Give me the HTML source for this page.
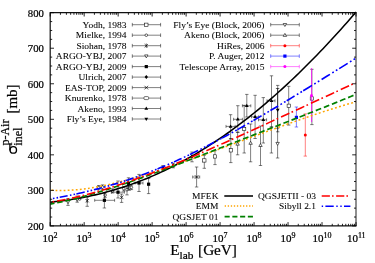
<!DOCTYPE html>
<html><head><meta charset="utf-8"><title>chart</title>
<style>
html,body{margin:0;padding:0;background:#fff;}
body{width:375px;height:263px;overflow:hidden;position:relative;font-family:"Liberation Serif",serif;}
svg{position:absolute;left:0;top:0;will-change:transform;}
text{font-family:"Liberation Serif",serif;stroke:#000;stroke-width:0.22px;}
</style></head><body>
<svg width="375" height="263" viewBox="0 0 375 263">
<rect x="0" y="0" width="375" height="263" fill="#fff"/>

<path d="M68.0,198.5V205.4 M66.3,198.5h3.4 M66.3,205.4h3.4" stroke="#000" stroke-width="0.5" fill="none"/><path d="M66.3,200.7h3.4l-1.7,3z" fill="#fff" stroke="#000" stroke-width="0.6"/>
<path d="M77.2,196.0V202.2 M75.5,196.0h3.4 M75.5,202.2h3.4" stroke="#000" stroke-width="0.5" fill="none"/><path d="M75.5,198.4h3.4l-1.7,3z" fill="#fff" stroke="#000" stroke-width="0.6"/>
<circle cx="79.7" cy="199.0" r="1.3" fill="#fff" stroke="#000" stroke-width="0.6"/>
<path d="M87.2,197.0V206.3 M85.5,197.0h3.4 M85.5,206.3h3.4" stroke="#000" stroke-width="0.5" fill="none"/><path d="M85.5,199.0l3.4,3.4m0,-3.4l-3.4,3.4m1.7,-3.9v4.4" stroke="#000" stroke-width="0.6" fill="none"/>
<path d="M98.7,185.5V189.8 M97.0,185.5h3.4 M97.0,189.8h3.4" stroke="#000" stroke-width="0.5" fill="none"/><circle cx="98.7" cy="187.6" r="1.3" fill="#fff" stroke="#000" stroke-width="0.6"/>
<path d="M102.5,184.9V189.7 M100.8,184.9h3.4 M100.8,189.7h3.4" stroke="#000" stroke-width="0.5" fill="none"/><circle cx="102.5" cy="187.2" r="1.3" fill="#fff" stroke="#000" stroke-width="0.6"/>
<path d="M105.1,192.9V197.3 M103.4,192.9h3.4 M103.4,197.3h3.4" stroke="#000" stroke-width="0.5" fill="none"/><circle cx="105.1" cy="195.1" r="1.3" fill="#fff" stroke="#000" stroke-width="0.6"/>
<path d="M112.6,188.8V193.0 M110.9,188.8h3.4 M110.9,193.0h3.4" stroke="#000" stroke-width="0.5" fill="none"/><circle cx="112.6" cy="190.9" r="1.3" fill="#fff" stroke="#000" stroke-width="0.6"/>
<path d="M121.6,194.0V202.4 M119.9,194.0h3.4 M119.9,202.4h3.4" stroke="#000" stroke-width="0.5" fill="none"/><path d="M119.8,195.5l3.6,3.6m0,-3.6l-3.6,3.6" stroke="#000" stroke-width="0.7" fill="none"/>
<path d="M123.8,186.5V191.0 M122.1,186.5h3.4 M122.1,191.0h3.4" stroke="#000" stroke-width="0.5" fill="none"/><circle cx="123.8" cy="188.7" r="1.3" fill="#fff" stroke="#000" stroke-width="0.6"/>
<path d="M127.0,187.0V194.9 M125.3,187.0h3.4 M125.3,194.9h3.4" stroke="#000" stroke-width="0.5" fill="none"/><circle cx="127.0" cy="189.7" r="1.3" fill="#fff" stroke="#000" stroke-width="0.6"/>
<path d="M129.2,186.0V190.3 M127.5,186.0h3.4 M127.5,190.3h3.4" stroke="#000" stroke-width="0.5" fill="none"/><circle cx="129.2" cy="188.1" r="1.3" fill="#fff" stroke="#000" stroke-width="0.6"/>
<path d="M131.4,185.2V189.6 M129.7,185.2h3.4 M129.7,189.6h3.4" stroke="#000" stroke-width="0.5" fill="none"/><circle cx="131.4" cy="187.4" r="1.3" fill="#fff" stroke="#000" stroke-width="0.6"/>
<path d="M104.4,192.8V208.0 M102.7,192.8h3.4 M102.7,208.0h3.4" stroke="#000" stroke-width="0.5" fill="none"/><path d="M94.7,200.3H114.6 M94.7,198.8v3.0 M114.6,198.8v3.0" stroke="#000" stroke-width="0.5" fill="none"/><rect x="102.8" y="198.7" width="3.2" height="3.2" fill="#000"/>
<path d="M118.0,181.0V198.0 M116.3,181.0h3.4 M116.3,198.0h3.4" stroke="#000" stroke-width="0.5" fill="none"/><path d="M111.4,192.2H124.4 M111.4,190.7v3.0 M124.4,190.7v3.0" stroke="#000" stroke-width="0.5" fill="none"/><rect x="116.4" y="190.6" width="3.2" height="3.2" fill="#000"/>
<path d="M128.5,177.8V189.0 M126.8,177.8h3.4 M126.8,189.0h3.4" stroke="#000" stroke-width="0.5" fill="none"/><rect x="126.9" y="181.7" width="3.2" height="3.2" fill="#000"/>
<path d="M139.0,174.4V191.5 M137.3,174.4h3.4 M137.3,191.5h3.4" stroke="#000" stroke-width="0.5" fill="none"/><path d="M135.0,183.0H143.0 M135.0,181.5v3.0 M143.0,181.5v3.0" stroke="#000" stroke-width="0.5" fill="none"/><rect x="137.4" y="181.4" width="3.2" height="3.2" fill="#000"/>
<path d="M148.6,178.4V193.6 M146.9,178.4h3.4 M146.9,193.6h3.4" stroke="#000" stroke-width="0.5" fill="none"/><rect x="147.0" y="182.6" width="3.2" height="3.2" fill="#000"/>
<path d="M163.0,165.6V170.4 M161.3,165.6h3.4 M161.3,170.4h3.4" stroke="#000" stroke-width="0.5" fill="none"/><path d="M161.3,168.0l1.7,-2l1.7,2l-1.7,2z" fill="#000"/>
<path d="M173.3,163.2V167.8 M171.6,163.2h3.4 M171.6,167.8h3.4" stroke="#000" stroke-width="0.5" fill="none"/><path d="M171.6,165.5l1.7,-2l1.7,2l-1.7,2z" fill="#000"/>
<path d="M192.0,152.0V161.8 M190.3,152.0h3.4 M190.3,161.8h3.4" stroke="#000" stroke-width="0.5" fill="none"/><path d="M190.3,156.6l1.7,-2l1.7,2l-1.7,2z" fill="#000"/>
<path d="M196.6,167.0V187.0 M194.9,167.0h3.4 M194.9,187.0h3.4" stroke="#000" stroke-width="0.5" fill="none"/><path d="M192.7,177.0H199.7 M192.7,175.5v3.0 M199.7,175.5v3.0" stroke="#000" stroke-width="0.5" fill="none"/><path d="M194.8,175.2l3.6,3.6m0,-3.6l-3.6,3.6" stroke="#000" stroke-width="0.7" fill="none"/>
<path d="M204.3,155.2V168.3 M202.6,155.2h3.4 M202.6,168.3h3.4" stroke="#000" stroke-width="0.5" fill="none"/><rect x="202.7" y="158.8" width="3.3" height="3.3" fill="#fff" stroke="#000" stroke-width="0.55"/>
<path d="M215.0,150.7V164.6 M213.3,150.7h3.4 M213.3,164.6h3.4" stroke="#000" stroke-width="0.5" fill="none"/><rect x="213.3" y="154.8" width="3.3" height="3.3" fill="#fff" stroke="#000" stroke-width="0.55"/>
<path d="M230.8,138.5V162.6 M229.1,138.5h3.4 M229.1,162.6h3.4" stroke="#000" stroke-width="0.5" fill="none"/><rect x="229.2" y="148.7" width="3.3" height="3.3" fill="#fff" stroke="#000" stroke-width="0.55"/>
<path d="M244.2,105.3V153.0 M242.5,105.3h3.4 M242.5,153.0h3.4" stroke="#000" stroke-width="0.5" fill="none"/><rect x="242.5" y="127.3" width="3.3" height="3.3" fill="#fff" stroke="#000" stroke-width="0.55"/>
<path d="M288.7,86.3V125.1 M287.0,86.3h3.4 M287.0,125.1h3.4" stroke="#000" stroke-width="0.5" fill="none"/><rect x="287.1" y="104.1" width="3.3" height="3.3" fill="#fff" stroke="#000" stroke-width="0.55"/>
<path d="M311.9,69.3V124.6 M310.2,69.3h3.4 M310.2,124.6h3.4" stroke="#000" stroke-width="0.5" fill="none"/><rect x="310.2" y="96.8" width="3.3" height="3.3" fill="#fff" stroke="#000" stroke-width="0.55"/>
<path d="M230.6,114.7V139.0 M228.9,114.7h3.4 M228.9,139.0h3.4" stroke="#000" stroke-width="0.5" fill="none"/><path d="M226.0,126.4H235.2 M226.0,124.9v3.0 M235.2,124.9v3.0" stroke="#000" stroke-width="0.5" fill="none"/><path d="M228.7,127.7h3.8l-1.9,-3.3z" fill="#000"/>
<path d="M237.8,105.7V132.3 M236.1,105.7h3.4 M236.1,132.3h3.4" stroke="#000" stroke-width="0.5" fill="none"/><path d="M233.6,119.3H242.4 M233.6,117.8v3.0 M242.4,117.8v3.0" stroke="#000" stroke-width="0.5" fill="none"/><path d="M235.9,120.6h3.8l-1.9,-3.3z" fill="#000"/>
<path d="M246.8,94.4V117.0 M245.1,94.4h3.4 M245.1,117.0h3.4" stroke="#000" stroke-width="0.5" fill="none"/><path d="M242.4,105.8H250.8 M242.4,104.3v3.0 M250.8,104.3v3.0" stroke="#000" stroke-width="0.5" fill="none"/><path d="M244.9,107.1h3.8l-1.9,-3.3z" fill="#000"/>
<path d="M255.1,95.3V138.5 M253.4,95.3h3.4 M253.4,138.5h3.4" stroke="#000" stroke-width="0.5" fill="none"/><path d="M251.5,116.8H258.7 M251.5,115.3v3.0 M258.7,115.3v3.0" stroke="#000" stroke-width="0.5" fill="none"/><path d="M253.2,118.1h3.8l-1.9,-3.3z" fill="#000"/>
<path d="M263.3,97.6V143.0 M261.6,97.6h3.4 M261.6,143.0h3.4" stroke="#000" stroke-width="0.5" fill="none"/><path d="M258.5,119.8H266.6 M258.5,118.3v3.0 M266.6,118.3v3.0" stroke="#000" stroke-width="0.5" fill="none"/><path d="M261.4,121.1h3.8l-1.9,-3.3z" fill="#000"/>
<path d="M271.5,75.8V127.0 M269.8,75.8h3.4 M269.8,127.0h3.4" stroke="#000" stroke-width="0.5" fill="none"/><path d="M267.0,100.8H275.0 M267.0,99.3v3.0 M275.0,99.3v3.0" stroke="#000" stroke-width="0.5" fill="none"/><path d="M269.6,102.1h3.8l-1.9,-3.3z" fill="#000"/>
<path d="M237.6,132.3V154.8 M235.9,132.3h3.4 M235.9,154.8h3.4" stroke="#000" stroke-width="0.5" fill="none"/><path d="M235.9,145.2h3.4l-1.7,-3z" fill="#fff" stroke="#000" stroke-width="0.6"/>
<path d="M250.6,124.0V161.8 M248.9,124.0h3.4 M248.9,161.8h3.4" stroke="#000" stroke-width="0.5" fill="none"/><path d="M248.9,144.3h3.4l-1.7,-3z" fill="#fff" stroke="#000" stroke-width="0.6"/>
<path d="M260.5,126.0V165.5 M258.8,126.0h3.4 M258.8,165.5h3.4" stroke="#000" stroke-width="0.5" fill="none"/><path d="M258.8,146.5h3.4l-1.7,-3z" fill="#fff" stroke="#000" stroke-width="0.6"/>
<path d="M271.4,127.0V153.0 M269.7,127.0h3.4 M269.7,153.0h3.4" stroke="#000" stroke-width="0.5" fill="none"/>
<path d="M277.7,85.4V131.8 M276.0,85.4h3.4 M276.0,131.8h3.4" stroke="#000" stroke-width="0.5" fill="none"/><path d="M275.8,108.7h3.8l-1.9,3.3z" fill="#000"/>
<path d="M277.6,128.2V158.0 M275.9,128.2h3.4 M275.9,158.0h3.4" stroke="#000" stroke-width="0.5" fill="none"/><path d="M275.9,88.5h3.4" stroke="#000" stroke-width="0.6"/><path d="M275.9,142.4h3.4l-1.7,3z" fill="#fff" stroke="#000" stroke-width="0.6"/>
<path d="M277.6,88.5V128.2" stroke="#000" stroke-width="0.6"/>
<path d="M296.4,107.0V127.0 M294.7,107.0h3.4 M294.7,127.0h3.4" stroke="#0000ff" stroke-width="0.5" fill="none"/><rect x="294.8" y="115.8" width="3.2" height="3.2" fill="#0000ff"/>
<path d="M305.3,113.9V156.1 M303.6,113.9h3.4 M303.6,156.1h3.4" stroke="#ff0000" stroke-width="0.5" fill="none"/><circle cx="305.3" cy="135.1" r="1.5" fill="#ff0000"/>
<path d="M311.6,68V122" stroke="#ff00ff" stroke-width="0.8"/>
<circle cx="311.5" cy="95.6" r="1.5" fill="#ff00ff"/>
<path d="M50.20,202.18 L53.20,201.88 L56.20,201.55 L59.19,201.19 L62.19,200.81 L65.19,200.40 L68.19,199.97 L71.19,199.51 L74.18,199.03 L77.18,198.52 L80.18,197.98 L83.18,197.41 L86.18,196.82 L89.17,196.20 L92.17,195.55 L95.17,194.87 L98.17,194.16 L101.17,193.42 L104.16,192.65 L107.16,191.85 L110.16,191.03 L113.16,190.17 L116.16,189.28 L119.15,188.36 L122.15,187.41 L125.15,186.42 L128.15,185.41 L131.15,184.37 L134.15,183.29 L137.14,182.18 L140.14,181.04 L143.14,179.86 L146.14,178.66 L149.14,177.42 L152.13,176.15 L155.13,174.84 L158.13,173.50 L161.13,172.13 L164.13,170.73 L167.12,169.29 L170.12,167.82 L173.12,166.32 L176.12,164.78 L179.12,163.21 L182.11,161.61 L185.11,159.97 L188.11,158.30 L191.11,156.59 L194.11,154.86 L197.10,153.08 L200.10,151.28 L203.10,149.44 L206.10,147.56 L209.10,145.65 L212.09,143.71 L215.09,141.74 L218.09,139.73 L221.09,137.69 L224.09,135.61 L227.08,133.50 L230.08,131.36 L233.08,129.18 L236.08,126.97 L239.08,124.73 L242.07,122.45 L245.07,120.14 L248.07,117.79 L251.07,115.42 L254.07,113.01 L257.06,110.56 L260.06,108.09 L263.06,105.58 L266.06,103.04 L269.06,100.46 L272.05,97.85 L275.05,95.21 L278.05,92.54 L281.05,89.84 L284.05,87.10 L287.05,84.33 L290.04,81.53 L293.04,78.70 L296.04,75.84 L299.04,72.94 L302.04,70.02 L305.03,67.06 L308.03,64.07 L311.03,61.05 L314.03,58.00 L317.03,54.92 L320.02,51.81 L323.02,48.66 L326.02,45.49 L329.02,42.29 L332.02,39.06 L335.01,35.79 L338.01,32.50 L341.01,29.18 L344.01,25.83 L347.01,22.45 L350.00,19.04 L353.00,15.60 L356.00,12.13" fill="none" stroke="#000" stroke-width="1.55"/>
<path d="M51.50,190.20 L53.30,190.30 M55.55,190.39 L57.35,190.44 M59.60,190.48 L61.40,190.48 M63.65,190.45 L65.45,190.41 M67.70,190.33 L69.50,190.25 M71.75,190.11 L73.55,189.99 M75.80,189.81 L77.60,189.64 M79.85,189.41 L81.65,189.21 M83.90,188.94 L85.70,188.71 M87.95,188.39 L89.75,188.13 M92.00,187.77 L93.80,187.48 M96.05,187.09 L97.85,186.76 M100.10,186.34 L101.90,185.98 M104.15,185.53 L105.95,185.15 M108.20,184.66 L110.00,184.26 M112.25,183.74 L114.05,183.32 M116.30,182.78 L118.10,182.33 M120.35,181.76 L122.15,181.30 M124.40,180.71 L126.20,180.23 M128.45,179.61 L130.25,179.12 M132.50,178.48 L134.30,177.97 M136.55,177.32 L138.35,176.79 M140.60,176.12 L142.40,175.57 M144.65,174.89 L146.45,174.33 M148.70,173.63 L150.50,173.06 M152.75,172.35 L154.55,171.77 M156.80,171.04 L158.60,170.46 M160.85,169.72 L162.65,169.12 M164.90,168.37 L166.70,167.77 M168.95,167.00 L170.75,166.39 M173.00,165.62 L174.80,165.00 M177.05,164.23 L178.85,163.60 M181.10,162.81 L182.90,162.18 M185.15,161.39 L186.95,160.75 M189.20,159.96 L191.00,159.32 M193.25,158.51 L195.05,157.87 M197.30,157.06 L199.10,156.41 M201.35,155.60 L203.15,154.94 M205.40,154.13 L207.20,153.47 M209.45,152.65 L211.25,151.99 M213.50,151.17 L215.30,150.51 M217.55,149.69 L219.35,149.03 M221.60,148.20 L223.40,147.54 M225.65,146.71 L227.45,146.04 M229.70,145.21 L231.50,144.55 M233.75,143.72 L235.55,143.05 M237.80,142.22 L239.60,141.56 M241.85,140.73 L243.65,140.06 M245.90,139.23 L247.70,138.57 M249.95,137.74 L251.75,137.08 M254.00,136.25 L255.80,135.59 M258.05,134.76 L259.85,134.10 M262.10,133.27 L263.90,132.62 M266.15,131.79 L267.95,131.14 M270.20,130.32 L272.00,129.66 M274.25,128.84 L276.05,128.19 M278.30,127.38 L280.10,126.73 M282.35,125.92 L284.15,125.27 M286.40,124.47 L288.20,123.83 M290.45,123.03 L292.25,122.39 M294.50,121.59 L296.30,120.96 M298.55,120.17 L300.35,119.54 M302.60,118.76 L304.40,118.13 M306.65,117.36 L308.45,116.74 M310.70,115.97 L312.50,115.36 M314.75,114.60 L316.55,114.00 M318.80,113.25 L320.60,112.65 M322.85,111.91 L324.65,111.32 M326.90,110.59 L328.70,110.01 M330.95,109.29 L332.75,108.72 M335.00,108.01 L336.80,107.45 M339.05,106.76 L340.85,106.21 M343.10,105.53 L344.90,104.99 M347.15,104.33 L348.95,103.81 M351.20,103.16 L353.00,102.65 M355.25,102.02 L356.00,101.81" fill="none" stroke="#ffa500" stroke-width="1.5"/>
<path d="M50.20,204.11 L52.36,203.71 L54.52,203.29 M57.20,202.75 L59.90,202.19 L62.60,201.61 M65.28,201.01 L67.98,200.39 L70.68,199.75 M73.36,199.10 L76.06,198.42 L78.76,197.72 M81.44,197.02 L84.14,196.29 L86.84,195.55 M89.52,194.80 L92.22,194.02 L94.92,193.24 M97.60,192.44 L100.30,191.63 L103.00,190.80 M105.68,189.97 L108.38,189.12 L111.08,188.25 M113.76,187.39 L116.46,186.50 L119.16,185.61 M121.84,184.71 L124.54,183.80 L127.24,182.88 M129.92,181.95 L132.62,181.01 L135.32,180.07 M138.00,179.12 L140.70,178.16 L143.40,177.19 M146.08,176.22 L148.78,175.24 L151.48,174.25 M154.16,173.27 L156.86,172.27 L159.56,171.27 M162.24,170.27 L164.94,169.26 L167.64,168.24 M170.32,167.23 L173.02,166.21 L175.72,165.18 M178.40,164.16 L181.10,163.13 L183.80,162.10 M186.48,161.07 L189.18,160.03 L191.88,158.99 M194.56,157.95 L197.26,156.91 L199.96,155.86 M202.64,154.82 L205.34,153.77 L208.04,152.72 M210.72,151.68 L213.42,150.63 L216.12,149.58 M218.80,148.53 L221.50,147.48 L224.20,146.43 M226.88,145.38 L229.58,144.33 L232.28,143.27 M234.96,142.23 L237.66,141.17 L240.36,140.12 M243.04,139.07 L245.74,138.02 L248.44,136.97 M251.12,135.92 L253.82,134.87 L256.52,133.81 M259.20,132.77 L261.90,131.72 L264.60,130.66 M267.28,129.62 L269.98,128.57 L272.68,127.51 M275.36,126.47 L278.06,125.42 L280.76,124.36 M283.44,123.32 L286.14,122.26 L288.84,121.21 M291.52,120.16 L294.22,119.11 L296.92,118.05 M299.60,117.00 L302.30,115.94 L305.00,114.88 M307.68,113.83 L310.38,112.76 L313.08,111.70 M315.76,110.64 L318.46,109.57 L321.16,108.50 M323.84,107.43 L326.54,106.35 L329.24,105.27 M331.92,104.20 L334.62,103.11 L337.32,102.02 M340.00,100.93 L342.70,99.83 L345.40,98.73 M348.08,97.63 L350.78,96.51 L353.48,95.39" fill="none" stroke="#008000" stroke-width="1.7"/>
<path d="M50.20,202.24 L50.47,202.19 M52.67,201.84 L54.17,201.59 M57.10,201.07 L59.87,200.56 L62.63,200.03 L65.40,199.48 M67.60,199.02 L69.10,198.70 M72.03,198.06 L74.80,197.43 L77.56,196.78 L80.33,196.12 M82.53,195.57 L84.03,195.19 M86.96,194.43 L89.73,193.70 L92.49,192.95 L95.26,192.18 M97.46,191.55 L98.96,191.12 M101.89,190.26 L104.66,189.43 L107.42,188.59 L110.19,187.73 M112.39,187.03 L113.89,186.56 M116.82,185.61 L119.59,184.70 L122.35,183.77 L125.12,182.83 M127.32,182.08 L128.82,181.56 M131.75,180.53 L134.52,179.55 L137.28,178.56 L140.05,177.55 M142.25,176.74 L143.75,176.19 M146.68,175.09 L149.45,174.05 L152.21,173.00 L154.98,171.93 M157.18,171.08 L158.68,170.49 M161.61,169.34 L164.38,168.25 L167.14,167.14 L169.91,166.03 M172.11,165.14 L173.61,164.53 M176.54,163.33 L179.31,162.19 L182.07,161.04 L184.84,159.89 M187.04,158.96 L188.54,158.33 M191.47,157.09 L194.24,155.92 L197.00,154.74 L199.77,153.55 M201.97,152.60 L203.47,151.95 M206.40,150.68 L209.17,149.48 L211.93,148.27 L214.70,147.05 M216.90,146.08 L218.40,145.42 M221.33,144.13 L224.10,142.90 L226.86,141.67 L229.63,140.43 M231.83,139.45 L233.33,138.77 M236.26,137.46 L239.03,136.21 L241.79,134.97 L244.56,133.72 M246.76,132.72 L248.26,132.04 M251.19,130.71 L253.96,129.45 L256.72,128.19 L259.49,126.93 M261.69,125.93 L263.19,125.24 M266.12,123.91 L268.89,122.64 L271.65,121.37 L274.42,120.10 M276.62,119.10 L278.12,118.41 M281.05,117.06 L283.82,115.79 L286.58,114.52 L289.35,113.25 M291.55,112.24 L293.05,111.55 M295.98,110.20 L298.75,108.92 L301.51,107.65 L304.28,106.38 M306.48,105.36 L307.98,104.67 M310.91,103.32 L313.68,102.05 L316.44,100.78 L319.21,99.50 M321.41,98.49 L322.91,97.80 M325.84,96.45 L328.61,95.18 L331.37,93.90 L334.14,92.63 M336.34,91.62 L337.84,90.93 M340.77,89.58 L343.54,88.31 L346.30,87.03 L349.07,85.76 M351.27,84.75 L352.77,84.06 M355.70,82.71 L356.00,82.58" fill="none" stroke="#ff0000" stroke-width="1.6"/>
<path d="M50.20,199.02 L50.67,198.94 M52.97,198.52 L54.47,198.25 M56.57,197.87 L58.07,197.59 M59.70,197.28 L62.34,196.78 L64.99,196.26 L67.63,195.74 M69.93,195.27 L71.43,194.96 M73.53,194.52 L75.03,194.21 M76.40,193.91 L79.17,193.31 L81.94,192.68 L84.71,192.05 M87.01,191.51 L88.51,191.15 M90.61,190.64 L92.11,190.27 M93.90,189.82 L96.53,189.15 L99.16,188.47 L101.78,187.77 M104.09,187.14 L105.59,186.72 M107.69,186.13 L109.19,185.70 M110.50,185.32 L112.95,184.60 L115.41,183.87 L117.86,183.12 M120.16,182.40 L121.66,181.93 M123.76,181.25 L125.26,180.76 M126.00,180.52 L128.45,179.71 L130.91,178.88 L133.36,178.03 M135.66,177.22 L137.16,176.69 M139.26,175.94 L140.76,175.39 M141.50,175.12 L144.03,174.18 L146.57,173.22 L149.10,172.25 M151.40,171.35 L152.90,170.76 M155.00,169.93 L156.50,169.32 M157.50,168.91 L160.11,167.84 L162.72,166.75 L165.34,165.65 M167.64,164.66 L169.14,164.01 M171.24,163.09 L172.74,162.43 M174.00,161.87 L176.53,160.73 L179.07,159.58 L181.60,158.42 M183.90,157.35 L185.40,156.64 M187.50,155.65 L189.00,154.93 M190.00,154.45 L192.69,153.15 L195.38,151.84 L198.07,150.51 M200.38,149.36 L201.88,148.61 M203.97,147.54 L205.47,146.78 M207.00,146.00 L209.38,144.77 L211.75,143.54 L214.12,142.30 M216.43,141.08 L217.93,140.29 M220.03,139.17 L221.53,138.36 M222.00,138.11 L224.45,136.78 L226.91,135.44 L229.36,134.10 M231.66,132.83 L233.16,132.00 M235.26,130.84 L236.76,130.00 M237.50,129.59 L240.03,128.16 L242.57,126.73 L245.10,125.29 M247.40,123.98 L248.90,123.12 M251.00,121.91 L252.50,121.05 M253.50,120.47 L256.18,118.92 L258.85,117.36 L261.53,115.79 M263.83,114.44 L265.33,113.56 M267.43,112.32 L268.93,111.43 M270.40,110.56 L272.98,109.03 L275.56,107.49 L278.14,105.94 M280.44,104.57 L281.94,103.66 M284.04,102.40 L285.54,101.50 M286.70,100.80 L289.31,99.22 L291.92,97.64 L294.54,96.05 M296.84,94.65 L298.34,93.74 M300.44,92.46 L301.94,91.55 M303.20,90.78 L306.11,89.00 L309.03,87.21 L311.94,85.43 M314.24,84.01 L315.74,83.09 M317.84,81.80 L319.34,80.88 M321.60,79.49 L324.39,77.77 L327.17,76.05 L329.96,74.33 M332.26,72.91 L333.76,71.98 M335.86,70.68 L337.36,69.75 M339.20,68.61 L342.02,66.86 L344.84,65.11 L347.65,63.36 M349.95,61.92 L351.45,60.99 M353.56,59.68 L355.06,58.74" fill="none" stroke="#0000ff" stroke-width="1.6"/>
<path d="M50.2,12.7V225.9H356.0 M50.2,12.7H356.0" fill="none" stroke="#111" stroke-width="1.2" stroke-linecap="square"/>
<path d="M356.0,12.7V225.9" fill="none" stroke="#444" stroke-width="1.2"/>
<path d="M50.20,225.9v-3.8 M50.20,12.7v3.8 M60.43,225.9v-2.1 M60.43,12.7v2.1 M66.41,225.9v-2.1 M66.41,12.7v2.1 M70.66,225.9v-2.1 M70.66,12.7v2.1 M73.95,225.9v-2.1 M73.95,12.7v2.1 M76.64,225.9v-2.1 M76.64,12.7v2.1 M78.91,225.9v-2.1 M78.91,12.7v2.1 M80.88,225.9v-2.1 M80.88,12.7v2.1 M82.62,225.9v-2.1 M82.62,12.7v2.1 M84.18,225.9v-3.8 M84.18,12.7v3.8 M94.41,225.9v-2.1 M94.41,12.7v2.1 M100.39,225.9v-2.1 M100.39,12.7v2.1 M104.63,225.9v-2.1 M104.63,12.7v2.1 M107.93,225.9v-2.1 M107.93,12.7v2.1 M110.62,225.9v-2.1 M110.62,12.7v2.1 M112.89,225.9v-2.1 M112.89,12.7v2.1 M114.86,225.9v-2.1 M114.86,12.7v2.1 M116.60,225.9v-2.1 M116.60,12.7v2.1 M118.16,225.9v-3.8 M118.16,12.7v3.8 M128.38,225.9v-2.1 M128.38,12.7v2.1 M134.37,225.9v-2.1 M134.37,12.7v2.1 M138.61,225.9v-2.1 M138.61,12.7v2.1 M141.91,225.9v-2.1 M141.91,12.7v2.1 M144.60,225.9v-2.1 M144.60,12.7v2.1 M146.87,225.9v-2.1 M146.87,12.7v2.1 M148.84,225.9v-2.1 M148.84,12.7v2.1 M150.58,225.9v-2.1 M150.58,12.7v2.1 M152.13,225.9v-3.8 M152.13,12.7v3.8 M162.36,225.9v-2.1 M162.36,12.7v2.1 M168.34,225.9v-2.1 M168.34,12.7v2.1 M172.59,225.9v-2.1 M172.59,12.7v2.1 M175.88,225.9v-2.1 M175.88,12.7v2.1 M178.57,225.9v-2.1 M178.57,12.7v2.1 M180.85,225.9v-2.1 M180.85,12.7v2.1 M182.82,225.9v-2.1 M182.82,12.7v2.1 M184.56,225.9v-2.1 M184.56,12.7v2.1 M186.11,225.9v-3.8 M186.11,12.7v3.8 M196.34,225.9v-2.1 M196.34,12.7v2.1 M202.32,225.9v-2.1 M202.32,12.7v2.1 M206.57,225.9v-2.1 M206.57,12.7v2.1 M209.86,225.9v-2.1 M209.86,12.7v2.1 M212.55,225.9v-2.1 M212.55,12.7v2.1 M214.83,225.9v-2.1 M214.83,12.7v2.1 M216.80,225.9v-2.1 M216.80,12.7v2.1 M218.53,225.9v-2.1 M218.53,12.7v2.1 M220.09,225.9v-3.8 M220.09,12.7v3.8 M230.32,225.9v-2.1 M230.32,12.7v2.1 M236.30,225.9v-2.1 M236.30,12.7v2.1 M240.55,225.9v-2.1 M240.55,12.7v2.1 M243.84,225.9v-2.1 M243.84,12.7v2.1 M246.53,225.9v-2.1 M246.53,12.7v2.1 M248.80,225.9v-2.1 M248.80,12.7v2.1 M250.77,225.9v-2.1 M250.77,12.7v2.1 M252.51,225.9v-2.1 M252.51,12.7v2.1 M254.07,225.9v-3.8 M254.07,12.7v3.8 M264.29,225.9v-2.1 M264.29,12.7v2.1 M270.28,225.9v-2.1 M270.28,12.7v2.1 M274.52,225.9v-2.1 M274.52,12.7v2.1 M277.82,225.9v-2.1 M277.82,12.7v2.1 M280.51,225.9v-2.1 M280.51,12.7v2.1 M282.78,225.9v-2.1 M282.78,12.7v2.1 M284.75,225.9v-2.1 M284.75,12.7v2.1 M286.49,225.9v-2.1 M286.49,12.7v2.1 M288.04,225.9v-3.8 M288.04,12.7v3.8 M298.27,225.9v-2.1 M298.27,12.7v2.1 M304.26,225.9v-2.1 M304.26,12.7v2.1 M308.50,225.9v-2.1 M308.50,12.7v2.1 M311.79,225.9v-2.1 M311.79,12.7v2.1 M314.48,225.9v-2.1 M314.48,12.7v2.1 M316.76,225.9v-2.1 M316.76,12.7v2.1 M318.73,225.9v-2.1 M318.73,12.7v2.1 M320.47,225.9v-2.1 M320.47,12.7v2.1 M322.02,225.9v-3.8 M322.02,12.7v3.8 M332.25,225.9v-2.1 M332.25,12.7v2.1 M338.23,225.9v-2.1 M338.23,12.7v2.1 M342.48,225.9v-2.1 M342.48,12.7v2.1 M345.77,225.9v-2.1 M345.77,12.7v2.1 M348.46,225.9v-2.1 M348.46,12.7v2.1 M350.74,225.9v-2.1 M350.74,12.7v2.1 M352.71,225.9v-2.1 M352.71,12.7v2.1 M354.45,225.9v-2.1 M354.45,12.7v2.1 M356.00,225.9v-3.8 M356.00,12.7v3.8 M50.2,225.90h3.8 M356.0,225.90h-3.8 M50.2,217.02h2.0 M356.0,217.02h-2.0 M50.2,208.13h2.0 M356.0,208.13h-2.0 M50.2,199.25h2.0 M356.0,199.25h-2.0 M50.2,190.37h3.8 M356.0,190.37h-3.8 M50.2,181.48h2.0 M356.0,181.48h-2.0 M50.2,172.60h2.0 M356.0,172.60h-2.0 M50.2,163.72h2.0 M356.0,163.72h-2.0 M50.2,154.83h3.8 M356.0,154.83h-3.8 M50.2,145.95h2.0 M356.0,145.95h-2.0 M50.2,137.07h2.0 M356.0,137.07h-2.0 M50.2,128.18h2.0 M356.0,128.18h-2.0 M50.2,119.30h3.8 M356.0,119.30h-3.8 M50.2,110.42h2.0 M356.0,110.42h-2.0 M50.2,101.53h2.0 M356.0,101.53h-2.0 M50.2,92.65h2.0 M356.0,92.65h-2.0 M50.2,83.77h3.8 M356.0,83.77h-3.8 M50.2,74.88h2.0 M356.0,74.88h-2.0 M50.2,66.00h2.0 M356.0,66.00h-2.0 M50.2,57.12h2.0 M356.0,57.12h-2.0 M50.2,48.23h3.8 M356.0,48.23h-3.8 M50.2,39.35h2.0 M356.0,39.35h-2.0 M50.2,30.47h2.0 M356.0,30.47h-2.0 M50.2,21.58h2.0 M356.0,21.58h-2.0 M50.2,12.70h3.8 M356.0,12.70h-3.8" stroke="#000" stroke-width="0.85" fill="none"/>
<text x="43.9" y="229.8" font-size="10.7" text-anchor="end">200</text>
<text x="43.9" y="194.3" font-size="10.7" text-anchor="end">300</text>
<text x="43.9" y="158.7" font-size="10.7" text-anchor="end">400</text>
<text x="43.9" y="123.2" font-size="10.7" text-anchor="end">500</text>
<text x="43.9" y="87.7" font-size="10.7" text-anchor="end">600</text>
<text x="43.9" y="52.1" font-size="10.7" text-anchor="end">700</text>
<text x="43.9" y="16.6" font-size="10.7" text-anchor="end">800</text>
<text x="57.6" y="241.6" font-size="11" text-anchor="end">10<tspan dy="-3.8" font-size="8">2</tspan></text>
<text x="91.6" y="241.6" font-size="11" text-anchor="end">10<tspan dy="-3.8" font-size="8">3</tspan></text>
<text x="125.6" y="241.6" font-size="11" text-anchor="end">10<tspan dy="-3.8" font-size="8">4</tspan></text>
<text x="159.5" y="241.6" font-size="11" text-anchor="end">10<tspan dy="-3.8" font-size="8">5</tspan></text>
<text x="193.5" y="241.6" font-size="11" text-anchor="end">10<tspan dy="-3.8" font-size="8">6</tspan></text>
<text x="227.5" y="241.6" font-size="11" text-anchor="end">10<tspan dy="-3.8" font-size="8">7</tspan></text>
<text x="261.5" y="241.6" font-size="11" text-anchor="end">10<tspan dy="-3.8" font-size="8">8</tspan></text>
<text x="295.4" y="241.6" font-size="11" text-anchor="end">10<tspan dy="-3.8" font-size="8">9</tspan></text>
<text x="331.6" y="241.6" font-size="11" text-anchor="end">10<tspan dy="-3.8" font-size="8">10</tspan></text>
<text x="365.6" y="241.6" font-size="11" text-anchor="end">10<tspan dy="-3.8" font-size="8">11</tspan></text>
<text transform="translate(170.2,255.4) scale(1.05,1)" font-size="14.5">E<tspan dy="3.2" font-size="10.8">lab</tspan><tspan dy="-3.2" dx="4.5">[GeV]</tspan></text>
<g transform="rotate(-90)"><ellipse cx="-149.9" cy="13.3" rx="3.25" ry="3.2" fill="none" stroke="#000" stroke-width="1.35"/><path d="M-150.5,9.9H-143.2" stroke="#000" stroke-width="1.3"/><text x="-145.6" y="9.1" font-size="12">p-Air</text><text x="-145.8" y="22" font-size="12.2">inel</text><text x="-113.6" y="17" font-size="15">[mb]</text></g>
<text transform="translate(126.5,27.8) scale(1.055,1)" font-size="9" style="stroke-width:0.06px" text-anchor="end">Yodh, 1983</text>
<path d="M132.3,24.7H160.6 M132.3,22.9v3.6 M160.6,22.9v3.6" stroke="#000" stroke-width="0.5" fill="none"/>
<rect x="144.7" y="23.1" width="3.3" height="3.3" fill="#fff" stroke="#000" stroke-width="0.55"/>
<text transform="translate(126.5,38.3) scale(1.055,1)" font-size="9" style="stroke-width:0.06px" text-anchor="end">Mielke, 1994</text>
<path d="M132.3,35.2H160.6 M132.3,33.4v3.6 M160.6,33.4v3.6" stroke="#000" stroke-width="0.5" fill="none"/>
<circle cx="146.3" cy="35.2" r="1.3" fill="#fff" stroke="#000" stroke-width="0.6"/>
<text transform="translate(126.5,48.8) scale(1.055,1)" font-size="9" style="stroke-width:0.06px" text-anchor="end">Siohan, 1978</text>
<path d="M132.3,45.7H160.6 M132.3,43.9v3.6 M160.6,43.9v3.6" stroke="#000" stroke-width="0.5" fill="none"/>
<path d="M144.6,44.0l3.4,3.4m0,-3.4l-3.4,3.4m1.7,-3.9v4.4" stroke="#000" stroke-width="0.6" fill="none"/>
<text transform="translate(126.5,59.2) scale(1.055,1)" font-size="9" style="stroke-width:0.06px" text-anchor="end">ARGO-YBJ, 2007</text>
<path d="M132.3,56.1H160.6 M132.3,54.3v3.6 M160.6,54.3v3.6" stroke="#000" stroke-width="0.5" fill="none"/>
<path d="M144.6,54.9h3.4l-1.7,3z" fill="#fff" stroke="#000" stroke-width="0.6"/>
<text transform="translate(126.5,69.7) scale(1.055,1)" font-size="9" style="stroke-width:0.06px" text-anchor="end">ARGO-YBJ, 2009</text>
<path d="M132.3,66.6H160.6 M132.3,64.8v3.6 M160.6,64.8v3.6" stroke="#000" stroke-width="0.5" fill="none"/>
<rect x="144.7" y="65.0" width="3.2" height="3.2" fill="#000"/>
<text transform="translate(126.5,80.2) scale(1.055,1)" font-size="9" style="stroke-width:0.06px" text-anchor="end">Ulrich, 2007</text>
<path d="M132.3,77.1H160.6 M132.3,75.3v3.6 M160.6,75.3v3.6" stroke="#000" stroke-width="0.5" fill="none"/>
<path d="M144.6,77.1l1.7,-2l1.7,2l-1.7,2z" fill="#000"/>
<text transform="translate(126.5,90.7) scale(1.055,1)" font-size="9" style="stroke-width:0.06px" text-anchor="end">EAS-TOP, 2009</text>
<path d="M132.3,87.6H160.6 M132.3,85.8v3.6 M160.6,85.8v3.6" stroke="#000" stroke-width="0.5" fill="none"/>
<path d="M144.5,85.8l3.6,3.6m0,-3.6l-3.6,3.6" stroke="#000" stroke-width="0.7" fill="none"/>
<text transform="translate(126.5,101.2) scale(1.055,1)" font-size="9" style="stroke-width:0.06px" text-anchor="end">Knurenko, 1978</text>
<path d="M132.3,98.1H160.6 M132.3,96.3v3.6 M160.6,96.3v3.6" stroke="#000" stroke-width="0.5" fill="none"/>
<rect x="144.0" y="96.6" width="4.6" height="3" rx="0.9" fill="#fff" stroke="#000" stroke-width="0.55"/>
<text transform="translate(126.5,111.6) scale(1.055,1)" font-size="9" style="stroke-width:0.06px" text-anchor="end">Akeno, 1993</text>
<path d="M132.3,108.5H160.6 M132.3,106.7v3.6 M160.6,106.7v3.6" stroke="#000" stroke-width="0.5" fill="none"/>
<path d="M144.4,109.8h3.8l-1.9,-3.3z" fill="#000"/>
<text transform="translate(126.5,122.1) scale(1.055,1)" font-size="9" style="stroke-width:0.06px" text-anchor="end">Fly’s Eye, 1984</text>
<path d="M132.3,119.0H160.6 M132.3,117.2v3.6 M160.6,117.2v3.6" stroke="#000" stroke-width="0.5" fill="none"/>
<path d="M144.4,117.7h3.8l-1.9,3.3z" fill="#000"/>
<text transform="translate(264.5,27.8) scale(1.055,1)" font-size="9" style="stroke-width:0.06px" text-anchor="end">Fly’s Eye (Block, 2006)</text>
<path d="M270.7,24.7H299.3 M270.7,22.9v3.6 M299.3,22.9v3.6" stroke="#000" stroke-width="0.5" fill="none"/>
<path d="M283.2,23.5h3.4l-1.7,3z" fill="#fff" stroke="#000" stroke-width="0.6"/>
<text transform="translate(264.5,38.3) scale(1.055,1)" font-size="9" style="stroke-width:0.06px" text-anchor="end">Akeno (Block, 2006)</text>
<path d="M270.7,35.2H299.3 M270.7,33.4v3.6 M299.3,33.4v3.6" stroke="#000" stroke-width="0.5" fill="none"/>
<path d="M283.2,36.4h3.4l-1.7,-3z" fill="#fff" stroke="#000" stroke-width="0.6"/>
<text transform="translate(264.5,48.8) scale(1.055,1)" font-size="9" style="stroke-width:0.06px" text-anchor="end">HiRes, 2006</text>
<path d="M270.7,45.7H299.3 M270.7,43.9v3.6 M299.3,43.9v3.6" stroke="#ff0000" stroke-width="0.5" fill="none"/>
<circle cx="284.9" cy="45.7" r="1.5" fill="#ff0000"/>
<text transform="translate(264.5,59.2) scale(1.055,1)" font-size="9" style="stroke-width:0.06px" text-anchor="end">P. Auger, 2012</text>
<path d="M270.7,56.1H299.3 M270.7,54.3v3.6 M299.3,54.3v3.6" stroke="#0000ff" stroke-width="0.5" fill="none"/>
<rect x="283.3" y="54.5" width="3.2" height="3.2" fill="#0000ff"/>
<text transform="translate(264.5,69.7) scale(1.055,1)" font-size="9" style="stroke-width:0.06px" text-anchor="end">Telescope Array, 2015</text>
<path d="M270.7,66.6H299.3 M270.7,64.8v3.6 M299.3,64.8v3.6" stroke="#ff00ff" stroke-width="0.5" fill="none"/>
<circle cx="284.9" cy="66.6" r="1.5" fill="#ff00ff"/>
<text transform="translate(218.5,199.1) scale(1.055,1)" font-size="9" style="stroke-width:0.06px" text-anchor="end">MFEK</text>
<path d="M224.3,196.0H253.0" stroke="#000" stroke-width="1.55"/>
<text transform="translate(218.5,209.1) scale(1.055,1)" font-size="9" style="stroke-width:0.06px" text-anchor="end">EMM</text>
<path d="M224.7,206.0H253.0" stroke="#ffa500" stroke-width="1.5" stroke-dasharray="1.3,1.75"/>
<text transform="translate(218.5,219.8) scale(1.055,1)" font-size="9" style="stroke-width:0.06px" text-anchor="end">QGSJET 01</text>
<path d="M224.6,216.7H253.2" stroke="#008000" stroke-width="1.7" stroke-dasharray="5.1,2.65"/>
<text transform="translate(316.0,199.1) scale(1.055,1)" font-size="9" style="stroke-width:0.06px" text-anchor="end">QGSJETII - 03</text>
<path d="M321.7,196.0H350.4" stroke="#ff0000" stroke-width="1.6" stroke-dasharray="8.2,2.1,1.6,2.5"/>
<text transform="translate(316.0,209.4) scale(1.055,1)" font-size="9" style="stroke-width:0.06px" text-anchor="end">Sibyll 2.1</text>
<path d="M321.7,206.3h1.4 M325.4,206.3h8.3 M336.3,206.3h1.4 M340.3,206.3h1.4 M344,206.3H350.4" stroke="#0000ff" stroke-width="1.6"/>
</svg></body></html>
